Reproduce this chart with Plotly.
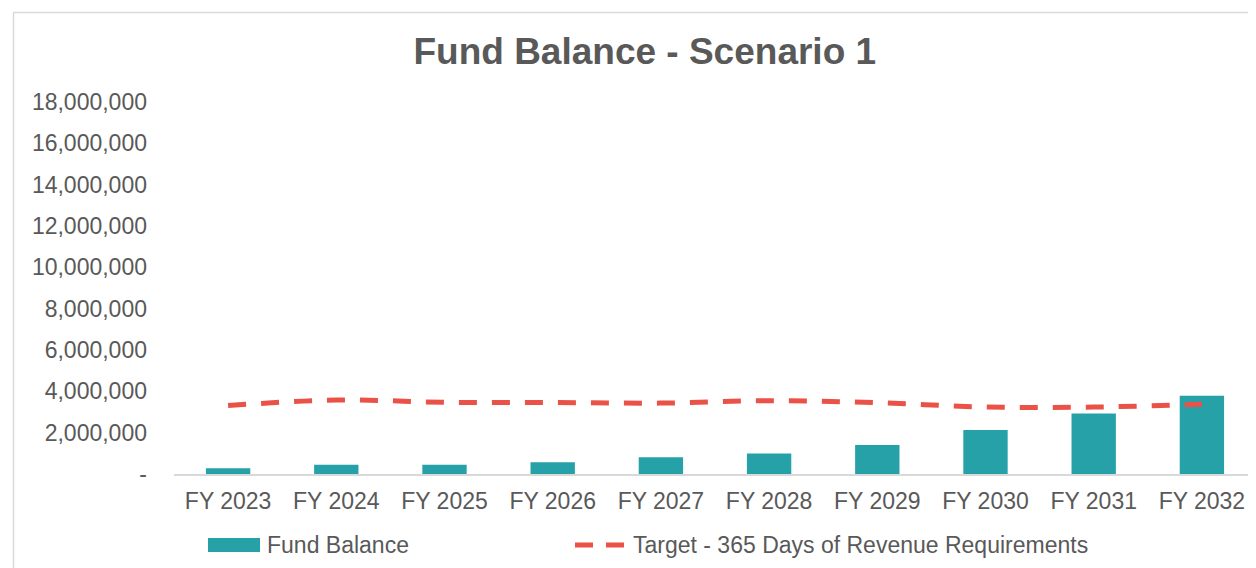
import plotly.graph_objects as go

categories = ["FY 2023", "FY 2024", "FY 2025", "FY 2026", "FY 2027",
              "FY 2028", "FY 2029", "FY 2030", "FY 2031", "FY 2032"]
fund_balance = [280000, 450000, 450000, 570000, 810000,
                990000, 1400000, 2130000, 2930000, 3790000]
target_365 = [3310000, 3580000, 3470000, 3460000, 3430000,
              3550000, 3450000, 3240000, 3240000, 3370000]
y_tickvals = [0, 2000000, 4000000, 6000000, 8000000, 10000000,
              12000000, 14000000, 16000000, 18000000]
y_ticktext = ["-", "2,000,000", "4,000,000", "6,000,000", "8,000,000",
              "10,000,000", "12,000,000", "14,000,000", "16,000,000", "18,000,000"]

BAR_COLOR = "#27A1A8"
LINE_COLOR = "#EA5147"
TEXT_COLOR = "#595959"
FONT = "Liberation Sans, Arial, sans-serif"

W, H = 1256, 568
L, R, T, B = 166, 8, 94, 102
pw, ph = W - L - R, H - T - B


def px_x(px):
    return (px - L) / pw


def px_y(py):
    return (H - B - py) / ph


fig = go.Figure()
fig.add_trace(go.Bar(x=categories, y=fund_balance, name="Fund Balance",
                     marker=dict(color=BAR_COLOR, line=dict(width=0)),
                     showlegend=False))
fig.add_trace(go.Scatter(x=categories, y=target_365, mode="lines",
                         name="Target - 365 Days of Revenue Requirements",
                         line=dict(color=LINE_COLOR, width=5, dash="18px,15px",
                                   shape="spline", smoothing=1),
                         showlegend=False))

shapes = []
# outer border (top and left)
shapes.append(dict(type="line", xref="paper", yref="paper",
                   x0=px_x(5), x1=px_x(1256), y0=px_y(4.5), y1=px_y(4.5),
                   line=dict(color="#D9D9D9", width=1.5)))
shapes.append(dict(type="line", xref="paper", yref="paper",
                   x0=px_x(5.5), x1=px_x(5.5), y0=px_y(4.5), y1=px_y(568),
                   line=dict(color="#D9D9D9", width=1.5)))
# custom legend symbols
shapes.append(dict(type="rect", xref="paper", yref="paper",
                   x0=px_x(200), x1=px_x(252), y0=px_y(544), y1=px_y(530),
                   fillcolor=BAR_COLOR, line=dict(width=0)))
shapes.append(dict(type="line", xref="paper", yref="paper",
                   x0=px_x(567), x1=px_x(585), y0=px_y(537), y1=px_y(537),
                   line=dict(color=LINE_COLOR, width=5)))
shapes.append(dict(type="line", xref="paper", yref="paper",
                   x0=px_x(598), x1=px_x(616), y0=px_y(537), y1=px_y(537),
                   line=dict(color=LINE_COLOR, width=5)))

annotations = [
    dict(text="Fund Balance", xref="paper", yref="paper", x=px_x(257), y=px_y(537),
         xanchor="left", yanchor="middle", showarrow=False,
         font=dict(family=FONT, size=23, color=TEXT_COLOR)),
    dict(text="Target - 365 Days of Revenue Requirements", xref="paper", yref="paper",
         x=px_x(623), y=px_y(537), xanchor="left", yanchor="middle", showarrow=False,
         font=dict(family=FONT, size=23, color=TEXT_COLOR)),
]

fig.update_layout(
    width=W, height=H,
    margin=dict(l=L, r=R, t=T, b=B, autoexpand=False),
    paper_bgcolor="white", plot_bgcolor="white",
    title=dict(text="<b>Fund Balance - Scenario 1</b>", x=0.507, xanchor="center",
               y=1 - 43 / H, yanchor="middle",
               font=dict(family=FONT, size=37, color=TEXT_COLOR)),
    bargap=0.59,
    shapes=shapes,
    annotations=annotations,
    xaxis=dict(showgrid=False, showline=True, linecolor="#D9D9D9", linewidth=1.5,
               ticks="", tickfont=dict(family=FONT, size=23, color=TEXT_COLOR),
               ticklabelstandoff=6),
    yaxis=dict(range=[0, 18000000], tickvals=y_tickvals, ticktext=y_ticktext,
               showgrid=False, zeroline=False, showline=False, ticks="",
               tickfont=dict(family=FONT, size=23, color=TEXT_COLOR),
               ticklabelstandoff=26),
)

fig.write_html("out.html")
